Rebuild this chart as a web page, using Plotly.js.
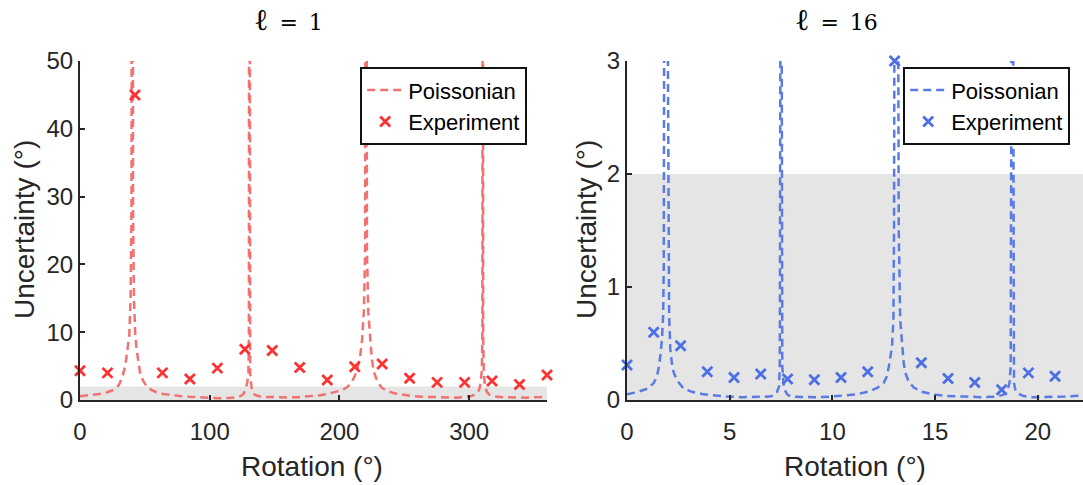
<!DOCTYPE html>
<html>
<head>
<meta charset="utf-8">
<script src="https://cdn.plot.ly/plotly-3.0.1.min.js"></script>
<style>html,body{margin:0;padding:0;background:#fff;}#chart{width:1083px;height:485px;}</style>
</head>
<body>
<div id="chart"></div>
<script>
// ---- data ----
const leftTitle = "<span style='font-size:30px'>ℓ</span>\u2002=\u20021";
const rightTitle = "<span style='font-size:30px'>ℓ</span>\u2002=\u200216";

const leftCurveX = [0, 8, 15, 21, 26, 30, 33, 35, 36.5, 38, 39, 39.7, 40.3, 40.9, 41.6, 42.6, 43.7, 45, 46.3, 48.5, 51.4, 55, 59, 64, 70, 77, 84, 92, 100, 108, 115, 120, 124, 126, 127.5, 129, 129.8, 130.2, 130.5, 130.8, 131.2, 132.4, 133.5, 135, 138, 144, 152, 160, 168, 176, 184, 191, 197, 202, 206, 209, 212, 214, 216, 217.5, 218.8, 219.8, 220.5, 221.2, 222.2, 223.5, 225, 226.5, 229, 232.6, 237, 242, 248, 255, 263, 272, 281, 290, 297, 302, 305.5, 307.5, 308.8, 309.8, 310.2, 310.5, 310.8, 311.2, 312, 313.6, 315.5, 319, 326, 335, 345, 355, 360];
const leftCurveY = [0.55, 0.7, 0.88, 1.15, 1.5, 2.2, 3.6, 5.2, 7.2, 9.5, 15, 28, 150, 28, 15, 9.5, 7.4, 5.5, 4.0, 2.9, 2.0, 1.5, 1.15, 0.9, 0.72, 0.58, 0.48, 0.38, 0.3, 0.26, 0.3, 0.4, 0.6, 0.9, 1.5, 2.6, 4, 10, 150, 10, 4, 1.5, 1.0, 0.75, 0.55, 0.45, 0.38, 0.38, 0.42, 0.52, 0.68, 0.9, 1.15, 1.45, 1.9, 2.5, 3.6, 4.8, 6.5, 9, 13, 22, 150, 22, 13, 9, 6, 4.2, 2.8, 1.8, 1.35, 1.0, 0.78, 0.6, 0.48, 0.4, 0.35, 0.35, 0.42, 0.6, 0.9, 1.4, 2.4, 4.5, 10, 150, 10, 4.5, 2.4, 1.2, 0.8, 0.55, 0.4, 0.33, 0.35, 0.45, 0.55];

const leftExpX = [0, 21.2, 42.4, 63.5, 84.7, 105.9, 127.1, 148.2, 169.4, 190.6, 211.8, 232.9, 254.1, 275.3, 296.5, 317.6, 338.8, 360];
const leftExpY = [4.3, 4.0, 45, 4.0, 3.1, 4.7, 7.5, 7.3, 4.8, 2.95, 4.9, 5.3, 3.2, 2.6, 2.6, 2.8, 2.3, 3.7];

const rightCurveX = [0, 0.5, 1.0, 1.3, 1.46, 1.56, 1.63, 1.71, 1.76, 1.79, 1.81, 1.89, 1.98, 2.01, 2.05, 2.11, 2.2, 2.28, 2.45, 2.76, 3.2, 3.74, 4.3, 4.9, 5.6, 6.3, 6.9, 7.15, 7.3, 7.4, 7.44, 7.47, 7.5, 7.53, 7.56, 7.64, 7.8, 7.96, 8.5, 9.2, 9.9, 10.6, 11.2, 11.85, 12.2, 12.5, 12.65, 12.74, 12.83, 12.9, 12.97, 13.0, 13.02, 13.11, 13.2, 13.23, 13.3, 13.39, 13.47, 13.55, 13.7, 13.96, 14.4, 14.93, 15.6, 16.5, 17.3, 17.98, 18.3, 18.5, 18.62, 18.68, 18.72, 18.76, 18.8, 18.84, 18.92, 19.0, 19.3, 19.8, 20.5, 21.3, 22.2, 22.5];
const rightCurveY = [0.05, 0.07, 0.10, 0.15, 0.21, 0.3, 0.40, 0.56, 0.75, 1.2, 3.5, 50, 3.5, 1.2, 0.75, 0.45, 0.3, 0.24, 0.17, 0.10, 0.07, 0.05, 0.04, 0.03, 0.025, 0.025, 0.03, 0.04, 0.07, 0.12, 0.3, 3.5, 50, 3.5, 0.3, 0.1, 0.05, 0.03, 0.025, 0.025, 0.03, 0.04, 0.05, 0.08, 0.11, 0.15, 0.21, 0.29, 0.38, 0.47, 0.71, 1.5, 3.5, 50, 3.5, 1.5, 0.71, 0.47, 0.33, 0.24, 0.17, 0.11, 0.07, 0.05, 0.035, 0.03, 0.025, 0.03, 0.045, 0.07, 0.15, 0.3, 3.5, 50, 3.5, 0.15, 0.08, 0.06, 0.035, 0.025, 0.025, 0.03, 0.04, 0.045];

const rightExpX = [0, 1.30, 2.61, 3.91, 5.21, 6.51, 7.82, 9.12, 10.42, 11.72, 13.03, 14.33, 15.63, 16.93, 18.24, 19.54, 20.84];
const rightExpY = [0.31, 0.60, 0.48, 0.25, 0.20, 0.23, 0.185, 0.18, 0.20, 0.25, 3.0, 0.33, 0.19, 0.155, 0.09, 0.24, 0.21];

const shadeLimit = 2;
const leftRange = [0, 360];
const rightRange = [0, 22.2];

// ---- styling ----
const W = 1083, H = 485, T = 61, B = 85;
const PH = H - T - B;
const px2x = p => p / W;
const px2y = p => (H - B - p) / PH;
const axisColor = '#262626';
const redLine = '#f07272', redMark = '#ff3030';
const blueLine = '#5a7ae4', blueMark = '#4d6fe6';
const sans = 'Liberation Sans, Arial, sans-serif';

function axisStyle(extra) {
  return Object.assign({
    showgrid: false, zeroline: false, showline: true,
    linecolor: axisColor, linewidth: 2,
    ticks: 'inside', ticklen: 5, tickwidth: 2, tickcolor: axisColor,
    tickfont: {family: sans, size: 24, color: axisColor},
    fixedrange: true
  }, extra);
}

const traces = [
  {x: leftCurveX, y: leftCurveY, xaxis: 'x', yaxis: 'y', mode: 'lines', name: 'Poissonian',
   line: {color: redLine, width: 2.5, dash: '8px,5px'}, legend: 'legend'},
  {x: leftExpX, y: leftExpY, xaxis: 'x', yaxis: 'y', mode: 'markers', name: 'Experiment',
   marker: {symbol: 'x-thin', size: 10, line: {color: redMark, width: 2.8}, color: redMark},
   cliponaxis: false, legend: 'legend'},
  {x: rightCurveX, y: rightCurveY, xaxis: 'x2', yaxis: 'y2', mode: 'lines', name: 'Poissonian',
   line: {color: blueLine, width: 2.5, dash: '8px,5px'}, legend: 'legend2'},
  {x: rightExpX, y: rightExpY, xaxis: 'x2', yaxis: 'y2', mode: 'markers', name: 'Experiment',
   marker: {symbol: 'x-thin', size: 10, line: {color: blueMark, width: 2.8}, color: blueMark},
   cliponaxis: false, legend: 'legend2'}
];

const legendStyle = {
  xanchor: 'left', yanchor: 'top', bgcolor: '#ffffff',
  bordercolor: '#111111', borderwidth: 2.2,
  font: {family: sans, size: 22, color: '#000'},
  itemwidth: 36, tracegroupgap: 0
};

const layout = {
  width: W, height: H,
  margin: {l: 0, r: 0, t: T, b: B, pad: 0},
  paper_bgcolor: '#ffffff', plot_bgcolor: 'rgba(0,0,0,0)',
  showlegend: true,
  xaxis: axisStyle({domain: [px2x(80), px2x(547)], range: leftRange, dtick: 100, anchor: 'y', ticklabelstandoff: 9}),
  yaxis: axisStyle({domain: [0, 1], range: [0, 50], dtick: 10, anchor: 'x'}),
  xaxis2: axisStyle({domain: [px2x(627), 1], range: rightRange, dtick: 5, anchor: 'y2', ticklabelstandoff: 9}),
  yaxis2: axisStyle({domain: [0, 1], range: [0, 3], dtick: 1, anchor: 'x2'}),
  legend: Object.assign({}, legendStyle, {x: px2x(360), y: px2y(67)}),
  legend2: Object.assign({}, legendStyle, {x: px2x(903), y: px2y(67)}),
  shapes: [
    {type: 'rect', xref: 'x', yref: 'y', x0: leftRange[0], x1: leftRange[1], y0: 0, y1: shadeLimit,
     fillcolor: '#e5e5e5', line: {width: 0}, layer: 'below'},
    {type: 'rect', xref: 'x2', yref: 'y2', x0: rightRange[0], x1: rightRange[1], y0: 0, y1: shadeLimit,
     fillcolor: '#e5e5e5', line: {width: 0}, layer: 'below'}
  ],
  annotations: [
    {text: leftTitle, xref: 'paper', yref: 'paper', x: px2x(288), y: px2y(20), showarrow: false,
     xanchor: 'center', yanchor: 'middle', font: {family: 'DejaVu Serif, serif', size: 22, color: '#000'}},
    {text: rightTitle, xref: 'paper', yref: 'paper', x: px2x(836), y: px2y(20), showarrow: false,
     xanchor: 'center', yanchor: 'middle', font: {family: 'DejaVu Serif, serif', size: 22, color: '#000'}},
    {text: 'Rotation (°)', xref: 'paper', yref: 'paper', x: px2x(312), y: px2y(466), showarrow: false,
     xanchor: 'center', yanchor: 'middle', font: {family: sans, size: 28, color: axisColor}},
    {text: 'Rotation (°)', xref: 'paper', yref: 'paper', x: px2x(855), y: px2y(466), showarrow: false,
     xanchor: 'center', yanchor: 'middle', font: {family: sans, size: 28, color: axisColor}},
    {text: 'Uncertainty (°)', xref: 'paper', yref: 'paper', x: px2x(24), y: px2y(230), showarrow: false,
     textangle: -90, xanchor: 'center', yanchor: 'middle', font: {family: sans, size: 28, color: axisColor}},
    {text: 'Uncertainty (°)', xref: 'paper', yref: 'paper', x: px2x(586), y: px2y(230), showarrow: false,
     textangle: -90, xanchor: 'center', yanchor: 'middle', font: {family: sans, size: 28, color: axisColor}}
  ]
};

Plotly.newPlot('chart', traces, layout, {displayModeBar: false, staticPlot: true});
</script>
</body>
</html>
